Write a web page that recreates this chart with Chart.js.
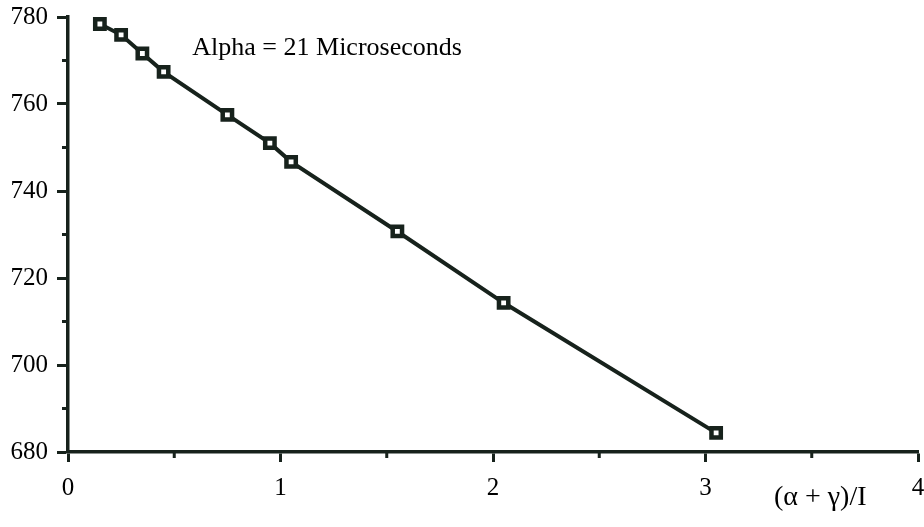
<!DOCTYPE html>
<html><head><meta charset="utf-8">
<script src="https://cdn.jsdelivr.net/npm/chart.js@4"></script>
<style>html,body{margin:0;padding:0;background:#fff}</style>
</head><body>
<canvas id="c" width="924" height="527"></canvas>
<script>
// ---- data ----
const xValues = [0.15, 0.25, 0.35, 0.45, 0.75, 0.95, 1.05, 1.55, 2.05, 3.05];
const yValues = [778.4, 775.9, 771.6, 767.4, 757.5, 751.0, 746.7, 730.7, 714.3, 684.4];
const xTickValues = [0, 1, 2, 3, 4];
const yTickValues = [680, 700, 720, 740, 760, 780];
const xMinorTicks = [0.5, 1.5, 2.5, 3.5];
const yMinorTicks = [690, 710, 730, 750, 770];
const annotationText = 'Alpha = 21 Microseconds';
const annotationAt = [0.585, 772.9];
const xTitleText = '(α + γ)/I';
const xTitleAt = 3.54;

const INK = '#17221c';
const FONT = '"Liberation Serif", "Times New Roman", serif';

const points = xValues.map((x, i) => ({x: x, y: yValues[i]}));

const extras = {
  id: 'extras',
  afterDraw(chart) {
    const ctx = chart.ctx, xs = chart.scales.x, ys = chart.scales.y;
    const area = chart.chartArea;
    ctx.save();
    ctx.strokeStyle = INK;
    ctx.lineWidth = 3;
    ctx.beginPath();
    xMinorTicks.forEach(v => {
      const px = xs.getPixelForValue(v);
      ctx.moveTo(px, area.bottom); ctx.lineTo(px, area.bottom + 6);
    });
    yMinorTicks.forEach(v => {
      const py = ys.getPixelForValue(v);
      ctx.moveTo(area.left, py); ctx.lineTo(area.left - 6, py);
    });
    ctx.stroke();
    ctx.fillStyle = '#000';
    ctx.font = '26px ' + FONT;
    ctx.textAlign = 'left';
    ctx.textBaseline = 'middle';
    ctx.fillText(annotationText, xs.getPixelForValue(annotationAt[0]), ys.getPixelForValue(annotationAt[1]));
    ctx.font = '28px ' + FONT;
    ctx.textAlign = 'center';
    ctx.fillText(xTitleText, xs.getPixelForValue(xTitleAt), area.bottom + 46);
    ctx.restore();
  }
};

new Chart(document.getElementById('c'), {
  type: 'scatter',
  data: {
    datasets: [
      {
        data: points,
        showLine: true,
        borderColor: INK,
        borderWidth: 4,
        tension: 0,
        pointStyle: 'rect',
        pointRadius: 6.6,
        pointBorderWidth: 4.5,
        pointBorderColor: INK,
        pointBackgroundColor: '#fff',
        pointHoverRadius: 6.6
      },
      {
        data: points,
        showLine: false,
        pointStyle: 'rect',
        pointRadius: 1.4,
        pointBorderWidth: 0.5,
        pointBorderColor: INK,
        pointBackgroundColor: INK
      }
    ]
  },
  options: {
    responsive: false,
    animation: false,
    events: [],
    layout: {autoPadding: false, padding: {left: 0, top: 17, right: 6, bottom: 0}},
    plugins: {legend: {display: false}, tooltip: {enabled: false}},
    scales: {
      x: {
        type: 'linear', min: 0, max: 4,
        afterFit(s) { s.height = 75; s.paddingLeft = 0; s.paddingRight = 0; },
        afterBuildTicks(s) { s.ticks = xTickValues.map(v => ({value: v})); },
        ticks: {
          color: '#000', font: {family: FONT, size: 25}, padding: 11,
          callback: v => String(v), maxRotation: 0
        },
        grid: {drawOnChartArea: false, drawTicks: true, tickLength: 10, tickWidth: 3, tickColor: INK, color: INK},
        border: {color: INK, width: 3.5}
      },
      y: {
        type: 'linear', min: 680, max: 780,
        afterFit(s) { s.width = 68; s.paddingTop = 0; s.paddingBottom = 0; },
        afterBuildTicks(s) { s.ticks = yTickValues.map(v => ({value: v})); },
        ticks: {
          color: '#000', font: {family: FONT, size: 25}, padding: 9,
          callback: v => String(v)
        },
        grid: {drawOnChartArea: false, drawTicks: true, tickLength: 11, tickWidth: 3, tickColor: INK, color: INK},
        border: {color: INK, width: 3.5}
      }
    }
  },
  plugins: [extras]
});
</script>
</body></html>
